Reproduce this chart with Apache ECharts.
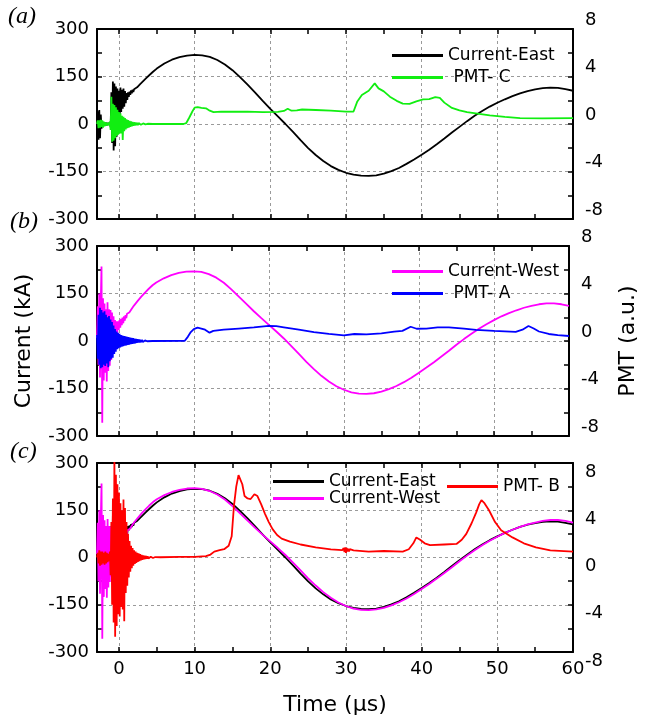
<!DOCTYPE html>
<html><head><meta charset="utf-8">
<script src="https://cdn.jsdelivr.net/npm/echarts@6/dist/echarts.min.js"></script>
<style>html,body{margin:0;padding:0;background:#fff}#c{width:647px;height:722px}</style>
</head><body><div id="c"></div>
<script>
// ---------- axis ticks ----------
const xTickValues = [0,5,10,15,20,25,30,35,40,45,50,55,60];
const xLabelValues = [0,10,20,30,40,50,60];

// ---------- Current-East (kA) ----------
// noise burst sampled every 0.1 us from -2.9 to 2.0
const eastNoiseStart = -2.9, eastNoiseStep = 0.1;
const eastNoise = [
  0, 40, -50, 44, -45, 30, -15, 8, -7, 6,
  -6, 5, -4, 4, -3, 3, -2, 5, -10, 100,
  -60, 134, -84, 128, -70, 118, -40, 112, -15, 105,
  20, 115, 38, 108, 48, 112, 55, 104, 66, 98,
  76, 100, 86, 102, 92, 106, 97, 108, 101, 110];
const eastT = [2.2,2.4,2.6,2.8,3.0,3.3,3.6,4.0,4.5,5,6,7,8,9,10,11,12,13,14,15,16,17,18,19,20,21,22,23,24,25,26,27,28,29,30,31,32,33,34,35,36,37,38,39,40,41,42,43,44,45,46,47,48,49,50,51,52,53,54,55,56,57,58,59,60];
const eastV = [112,116,121,126,131,138,145,154,165,175,191,203,211,216,218,217,212,202,188,170,148,124,99,73,48,24,0,-25,-51,-76,-98,-117,-133,-145,-154,-160,-163,-164,-162,-157,-149,-139,-126,-112,-97,-81,-64,-46,-27,-9,9,26,41,55,67,78,88,97,104,109,113,115,114,110,105];

// ---------- Current-West (kA) ----------
const westNoiseStart = -2.9, westNoiseStep = 0.1;
const westNoise = [
  10, 110, -75, 150, -115, 120, 235, -258, 135, -125,
  118, -100, 100, -128, 122, -95, 100, -78, 98, -60,
  90, -25, 78, 0, 66, 15, 62, 25, 62, 35,
  66, 42, 70, 50, 74, 56, 78, 64, 82, 72,
  86, 80];
const westT = [1.4,1.6,2.0,2.5,3,3.5,4,4.5,5,6,7,8,9,10,11,12,13,14,15,16,17,18,19,20,21,22,23,24,25,26,27,28,29,30,31,32,33,34,35,36,37,38,39,40,41,42,43,44,45,46,47,48,49,50,51,52,53,54,55,56,57,58,59,60];
const westV = [90,96,111,126,140,153,165,176,185,198,208,215,219,220,218,211,200,184,163,140,117,94,72,51,30,8,-16,-41,-66,-89,-110,-128,-143,-154,-162,-166,-167,-165,-160,-152,-142,-130,-116,-100,-84,-67,-49,-31,-12,6,23,39,53,66,78,88,97,105,111,116,119,119,116,111];

// ---------- PMT-C (a.u.) ----------
const pmtCNoiseStart = -2.9, pmtCNoiseStep = 0.1;
const pmtCNoise = [
  0, 0.3, -0.35, 0.3, -0.3, 0.35, -0.25, 0.3, -0.3, 0.2,
  -0.2, 0.15, -0.15, 0.1, -0.1, 0.1, -0.1, 0.2, -0.5, 2.3,
  -1.5, 1.7, -1.4, 1.6, -1.2, 1.4, -1.0, 1.2, -0.9, 1.0,
  -0.8, 0.9, -0.8, 0.7, -1.35, 0.6, -0.6, 0.5, -0.45, 0.4,
  -0.35, 0.32, -0.3, 0.27, -0.24, 0.22, -0.2, 0.18, -0.16, 0.14,
  -0.12, 0.12, -0.1, 0.1, -0.09, 0.08, -0.08, 0.07, -0.06, 0.06,
  -0.05, 0.05, -0.04, 0.04, -0.03, 0.03, -0.03, 0.02, -0.02, 0];
const pmtCT = [4.5,8.5,8.9,9.3,9.7,10,10.4,10.9,11.5,12,12.5,13.5,15,17,19,21,21.8,22.3,22.8,23.5,24.2,26,28,30,31.0,31.5,32.1,33.0,33.8,34.3,35,35.8,36.7,37.5,38.4,39.3,40.2,41,41.8,42.4,43,44,45,46,47.6,49,51,53,56,60];
const pmtCV = [0,0,0.08,0.55,1.05,1.38,1.42,1.36,1.32,1.12,1.0,1.05,1.03,1.05,1.0,1.02,1.1,1.28,1.12,1.15,1.22,1.18,1.12,1.05,1.05,1.9,2.45,2.8,3.42,3.0,2.75,2.3,1.95,1.72,1.7,1.9,2.08,2.1,2.26,2.2,1.8,1.35,1.15,1.0,0.85,0.72,0.6,0.5,0.48,0.5];

// ---------- PMT-A (a.u.) ----------
const pmtANoiseStart = -2.9, pmtANoiseStep = 0.1;
const pmtANoise = [
  0.5, -1.5, 2.2, -2.0, 2.8, -2.3, 2.6, -2.2, 2.4, -2.0,
  2.5, -2.1, 2.2, -1.9, 2.0, -2.2, 2.1, -1.7, 1.8, -1.5,
  1.6, -1.4, 1.3, -1.1, 1.0, -0.9, 0.8, -0.7, 0.7, -0.6,
  0.6, -0.55, 0.5, -0.48, 0.46, -0.44, 0.42, -0.4, 0.4, -0.38,
  0.36, -0.34, 0.32, -0.3, 0.28, -0.27, 0.26, -0.25, 0.24, -0.22,
  0.2, -0.19, 0.18, -0.16, 0.15, -0.14, 0.13, -0.12, 0.11, -0.1,
  0.09, -0.08, 0.07, -0.06, 0.05, -0.04, 0.03, -0.02, 0.02, 0];
const pmtAT = [4.5,8.8,9.2,9.6,10,10.5,11,11.5,12.1,12.6,14,16,18,20,21,22,24,26,28,30,31.4,33,35,36.7,37.8,38.9,39.7,41,42.5,44,46,47.6,50,52.9,53.8,54.6,55.3,56,57.3,58.5,60];
const pmtAV = [0,0.02,0.35,0.75,1.0,1.12,1.05,0.95,0.7,0.85,0.95,1.05,1.15,1.28,1.25,1.15,0.95,0.75,0.6,0.48,0.59,0.55,0.65,0.79,0.85,1.2,1.03,1.05,1.15,1.15,1.05,0.93,0.85,0.77,0.95,1.26,1.05,0.8,0.59,0.5,0.42];

// ---------- PMT-B (a.u.) ----------
const pmtBNoiseStart = -2.9, pmtBNoiseStep = 0.1;
const pmtBNoise = [
  0, 0.4, -0.5, 0.6, -0.7, 0.5, -0.6, 0.5, -0.5, 0.4,
  -0.6, 0.5, -0.5, 0.4, -0.4, 0.3, -0.3, 0.5, -1.5, 3.0,
  -4.0, 5.0, -5.5, 8.5, -6.7, 7.0, -5.8, 6.2, -4.8, 5.5,
  -5.0, 4.6, -4.2, 4.0, -4.4, 4.9, -5.4, 4.2, -3.0, 3.0,
  -2.4, 2.0, -1.7, 1.4, -1.2, 1.0, -0.9, 0.8, -0.7, 0.6,
  -0.55, 0.5, -0.45, 0.4, -0.38, 0.35, -0.3, 0.28, -0.25, 0.22,
  -0.2, 0.18, -0.16, 0.15, -0.13, 0.12, -0.1, 0.1, -0.08, 0.08,
  -0.06, 0.07, -0.05, 0.06, -0.04, 0.05, -0.03, 0.04, -0.02, 0.03];
const pmtBT = [5.5,8,10,11.5,12.1,12.6,13.3,13.9,14.5,14.9,15.2,15.5,15.8,16.0,16.3,16.6,17.0,17.4,17.9,18.3,18.8,19.3,19.8,20.3,20.9,21.5,22.6,24,26,28,29.5,29.7,29.8,29.9,30.0,30.1,30.2,30.3,30.4,30.5,30.7,31,33,35,37.5,38.3,38.9,39.3,39.8,40.4,41.1,43,44.6,45.3,45.9,46.6,47.2,47.6,47.9,48.3,48.9,49.7,50.5,52,53.5,55.1,57,60];
const pmtBV = [0.02,0.05,0.06,0.12,0.25,0.5,0.62,0.7,1.0,1.8,4.4,6.0,6.98,7.0,6.2,5.2,5.0,4.95,5.35,5.2,4.5,3.7,3.0,2.4,1.9,1.6,1.35,1.1,0.85,0.68,0.62,0.8,0.45,0.85,0.4,0.8,0.5,0.75,0.5,0.7,0.58,0.6,0.5,0.55,0.5,0.7,1.2,1.7,1.5,1.2,1.04,1.1,1.15,1.5,2.0,2.9,3.8,4.5,4.86,4.6,4.0,3.0,2.3,1.7,1.2,0.85,0.6,0.5];

// ---------- build ----------
function build(start, step, noise, ts, vs) {
  const out = noise.map((v, i) => [Math.round((start + i * step) * 100) / 100, v]);
  return out.concat(ts.map((t, i) => [t, vs[i]]));
}
const eastData = build(eastNoiseStart, eastNoiseStep, eastNoise, eastT, eastV);
const westData = build(westNoiseStart, westNoiseStep, westNoise, westT, westV);
const pmtCData = build(pmtCNoiseStart, pmtCNoiseStep, pmtCNoise, pmtCT, pmtCV);
const pmtAData = build(pmtANoiseStart, pmtANoiseStep, pmtANoise, pmtAT, pmtAV);
const pmtBData = build(pmtBNoiseStart, pmtBNoiseStep, pmtBNoise, pmtBT, pmtBV);

const FONT = 'DejaVu Sans';
const black = '#000';
const frame = { onZero: false, show: true, lineStyle: { color: black, width: 2 } };
const tick = { show: true, inside: true, length: 5, lineStyle: { color: black, width: 1.5 } };
const minor = { show: true, splitNumber: 2, length: 5, lineStyle: { color: black, width: 1.5 } };
const dash = { show: true, lineStyle: { color: '#9a9a9a', type: [3, 3], width: 1 } };

const grids = [
  { left: 97, top: 29, width: 476, height: 190 },
  { left: 97, top: 246, width: 476, height: 190 },
  { left: 97, top: 463, width: 476, height: 189 }
];
const xAxes = [], yAxes = [];
grids.forEach((g, i) => {
  // bottom frame: ticks every 5, labels every 10
  xAxes.push({
    type: 'value', gridIndex: i, min: -2.9, max: 60, position: 'bottom',
    axisLine: frame, axisTick: Object.assign({ customValues: xTickValues }, tick),
    axisLabel: { show: i === 2, customValues: xLabelValues, color: black, fontSize: 18, fontFamily: FONT, margin: 8 },
    splitLine: { show: false },
    name: i === 2 ? 'Time (µs)' : '', nameLocation: 'middle', nameGap: 42,
    nameTextStyle: { fontSize: 22, fontFamily: FONT, color: black }
  });
  // top frame
  xAxes.push({
    type: 'value', gridIndex: i, min: -2.9, max: 60, position: 'top',
    axisLine: frame, axisTick: Object.assign({ customValues: xTickValues }, tick),
    axisLabel: { show: false }, splitLine: { show: false }
  });
  // vertical dashed grid lines every 10
  xAxes.push({
    type: 'value', gridIndex: i, min: -2.9, max: 60, position: 'top', offset: 0,
    axisLine: { show: false }, axisTick: { show: false, customValues: xLabelValues },
    axisLabel: { show: false, customValues: xLabelValues }, splitLine: dash
  });
  yAxes.push({
    type: 'value', gridIndex: i, min: -300, max: 300, interval: 150, position: 'left',
    axisLine: frame, axisTick: tick, minorTick: minor,
    axisLabel: { color: black, fontSize: 18, fontFamily: FONT, margin: 8 },
    splitLine: dash,
    name: i === 1 ? 'Current (kA)' : '', nameLocation: 'middle', nameGap: 62,
    nameTextStyle: { fontSize: 22, fontFamily: FONT, color: black }
  });
  yAxes.push({
    type: 'value', gridIndex: i, min: -8, max: 8, interval: 4, position: 'right',
    axisLine: frame, axisTick: tick, minorTick: minor,
    axisLabel: { color: black, fontSize: 18, fontFamily: FONT, margin: 12, verticalAlign: i < 2 ? 'bottom' : 'top' },
    splitLine: { show: false },
    name: i === 1 ? 'PMT (a.u.)' : '', nameLocation: 'middle', nameGap: 48,
    nameTextStyle: { fontSize: 22, fontFamily: FONT, color: black }
  });
});

function line(name, xi, yi, data, color, z) {
  return {
    name, type: 'line', xAxisIndex: xi, yAxisIndex: yi, data, color,
    showSymbol: false, symbol: 'none', z, clip: true,
    lineStyle: { color, width: 1.8 }, emphasis: { disabled: true }
  };
}

const legendText = { fontSize: 17, fontFamily: FONT, color: black };
const fmt = n => (n === 'PMT- C' || n === 'PMT- A') ? ' ' + n : n;
const legendBase = { orient: 'vertical', itemWidth: 51, itemHeight: 3, icon: 'rect', textStyle: legendText, formatter: fmt, selectedMode: false };

const chart = echarts.init(document.getElementById('c'), null, { renderer: 'canvas' });
chart.setOption({
  animation: false,
  backgroundColor: '#fff',
  grid: grids,
  xAxis: xAxes,
  yAxis: yAxes,
  legend: [
    Object.assign({ data: ['Current-East', 'PMT- C'], left: 387, top: 42, itemGap: 5 }, legendBase),
    Object.assign({ data: ['Current-West', 'PMT- A'], left: 387, top: 258, itemGap: 5 }, legendBase),
    Object.assign({ data: ['Current-East', 'Current-West'], left: 268, top: 468, itemGap: 0 }, legendBase),
    Object.assign({ data: ['PMT- B'], left: 442, top: 473, itemGap: 0 }, legendBase)
  ],
  graphic: [
    { type: 'text', left: 8, top: 5, style: { text: '(a)', font: 'italic 24px "Liberation Serif"', fill: black } },
    { type: 'text', left: 10, top: 210, style: { text: '(b)', font: 'italic 24px "Liberation Serif"', fill: black } },
    { type: 'text', left: 10, top: 440, style: { text: '(c)', font: 'italic 24px "Liberation Serif"', fill: black } }
  ],
  series: [
    line('Current-East', 0, 0, eastData, '#000000', 2),
    line('PMT- C', 0, 1, pmtCData, '#11ee11', 3),
    line('Current-West', 3, 2, westData, '#ff00ff', 2),
    line('PMT- A', 3, 3, pmtAData, '#0000ff', 3),
    line('Current-East', 6, 4, eastData, '#000000', 2),
    line('Current-West', 6, 4, westData, '#ff00ff', 3),
    line('PMT- B', 6, 5, pmtBData, '#ff0000', 4)
  ]
});
</script></body></html>
